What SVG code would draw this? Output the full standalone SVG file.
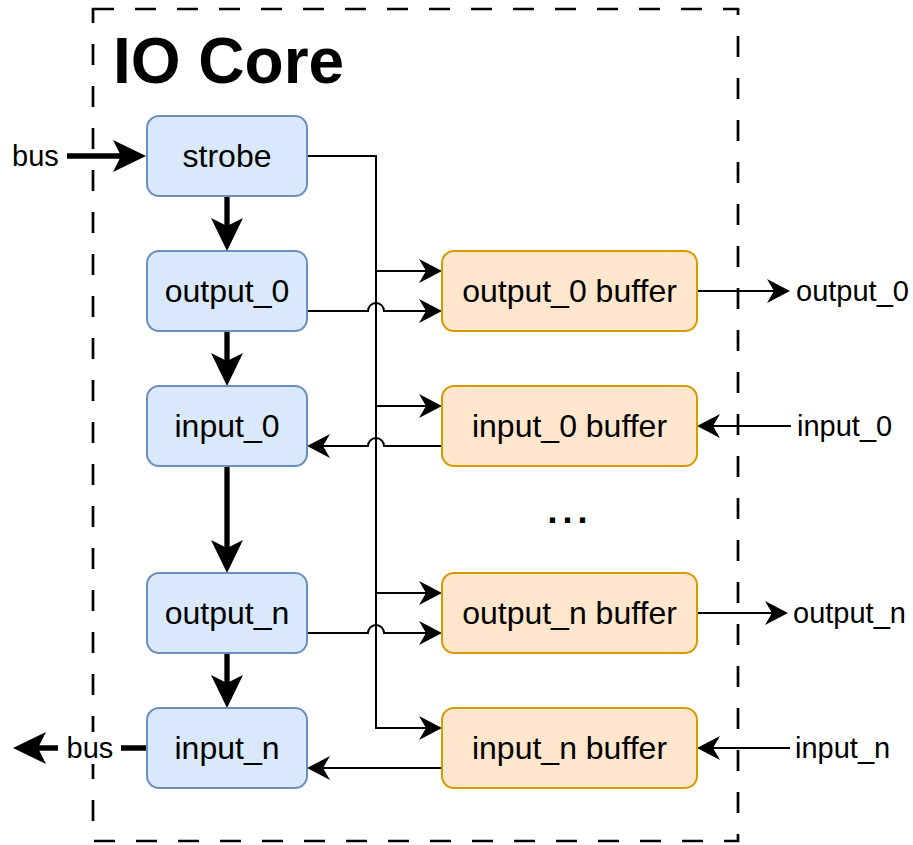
<svg xmlns="http://www.w3.org/2000/svg" width="913" height="845" viewBox="0 0 913 845">
<style>
  text { font-family: "Liberation Sans", Arial, Helvetica, sans-serif; fill: #000; }
  .node-text { font-size: 32px; text-anchor: middle; }
  .lbl { font-size: 29px; }
  .blue { fill: #dae8fc; stroke: #6c8ebf; stroke-width: 2; }
  .orange { fill: #ffe6cc; stroke: #d79b00; stroke-width: 2; }
  .thin { fill: none; stroke: #000; stroke-width: 2; marker-end: url(#thinArrow); }
  .thinplain { fill: none; stroke: #000; stroke-width: 2; }
  .thick { fill: none; stroke: #000; stroke-width: 5.3; marker-end: url(#thickArrow); }
</style>
<defs>
  <marker id="thinArrow" markerUnits="userSpaceOnUse" markerWidth="23" markerHeight="24" viewBox="0 0 23 24" refX="7" refY="12" orient="auto">
    <path d="M0,0 L23,12 L0,24 L7,12 Z" fill="#000"/>
  </marker>
  <marker id="thickArrow" markerUnits="userSpaceOnUse" markerWidth="33" markerHeight="32" viewBox="0 0 33 32" refX="8" refY="16" orient="auto">
    <path d="M0,0 L33,16 L0,32 L8,16 Z" fill="#000"/>
  </marker>
</defs>
<rect width="913" height="845" fill="#fff"/>

<g id="io-core">
  <rect x="93" y="9" width="645" height="832" fill="none" stroke="#000" stroke-width="2.7" stroke-dasharray="21 21"/>
  <text x="113" y="83" font-size="64" font-weight="bold">IO Core</text>
</g>

<g id="connectors">
  <!-- bus in -->
  <path class="thick" d="M67,156 H121"/>
  <!-- vertical chain -->
  <path class="thick" d="M227,196 V226"/>
  <path class="thick" d="M227,331 V361"/>
  <path class="thick" d="M227,466 V548"/>
  <path class="thick" d="M227,653 V683"/>
  <!-- bus out -->
  <path class="thick" d="M147,748 H38"/>
  <!-- strobe trunk -->
  <path class="thin" d="M307,156 H376 V728 H426"/>
  <path class="thin" d="M376,271 H426"/>
  <path class="thin" d="M376,406 H426"/>
  <path class="thin" d="M376,593 H426"/>
  <!-- node to buffer with hops -->
  <path class="thin" d="M307,311 H368 A8,8 0 0 1 384,311 H426"/>
  <path class="thin" d="M442,446 H384 A8,8 0 0 0 368,446 H323"/>
  <path class="thin" d="M307,633 H368 A8,8 0 0 1 384,633 H426"/>
  <path class="thin" d="M442,768 H323"/>
  <!-- external -->
  <path class="thin" d="M697,291 H774"/>
  <path class="thin" d="M791,426 H713"/>
  <path class="thin" d="M697,613 H772"/>
  <path class="thin" d="M790,748 H713"/>
</g>

<g id="labels">
  <text class="lbl" x="12" y="166">bus</text>
  <rect x="58" y="732" width="63" height="32" fill="#fff"/>
  <text class="lbl" x="90" y="758" text-anchor="middle">bus</text>
  <text class="lbl" x="796" y="301">output_0</text>
  <text class="lbl" x="797" y="436">input_0</text>
  <text class="lbl" x="793" y="623">output_n</text>
  <text class="lbl" x="795" y="758">input_n</text>
  <text x="570" y="523" font-size="36" font-weight="bold" text-anchor="middle" letter-spacing="5">...</text>
</g>

<g id="strobe">
  <rect class="blue" x="147" y="116" width="160" height="80" rx="12"/>
  <text class="node-text" x="227" y="167">strobe</text>
</g>
<g id="output_0">
  <rect class="blue" x="147" y="251" width="160" height="80" rx="12"/>
  <text class="node-text" x="227" y="302">output_0</text>
</g>
<g id="input_0">
  <rect class="blue" x="147" y="386" width="160" height="80" rx="12"/>
  <text class="node-text" x="227" y="437">input_0</text>
</g>
<g id="output_n">
  <rect class="blue" x="147" y="573" width="160" height="80" rx="12"/>
  <text class="node-text" x="227" y="624">output_n</text>
</g>
<g id="input_n">
  <rect class="blue" x="147" y="708" width="160" height="80" rx="12"/>
  <text class="node-text" x="227" y="759">input_n</text>
</g>

<g id="output_0_buffer">
  <rect class="orange" x="442" y="251" width="255" height="80" rx="12"/>
  <text class="node-text" x="569.5" y="302">output_0 buffer</text>
</g>
<g id="input_0_buffer">
  <rect class="orange" x="442" y="386" width="255" height="80" rx="12"/>
  <text class="node-text" x="569.5" y="437">input_0 buffer</text>
</g>
<g id="output_n_buffer">
  <rect class="orange" x="442" y="573" width="255" height="80" rx="12"/>
  <text class="node-text" x="569.5" y="624">output_n buffer</text>
</g>
<g id="input_n_buffer">
  <rect class="orange" x="442" y="708" width="255" height="80" rx="12"/>
  <text class="node-text" x="569.5" y="759">input_n buffer</text>
</g>
</svg>
